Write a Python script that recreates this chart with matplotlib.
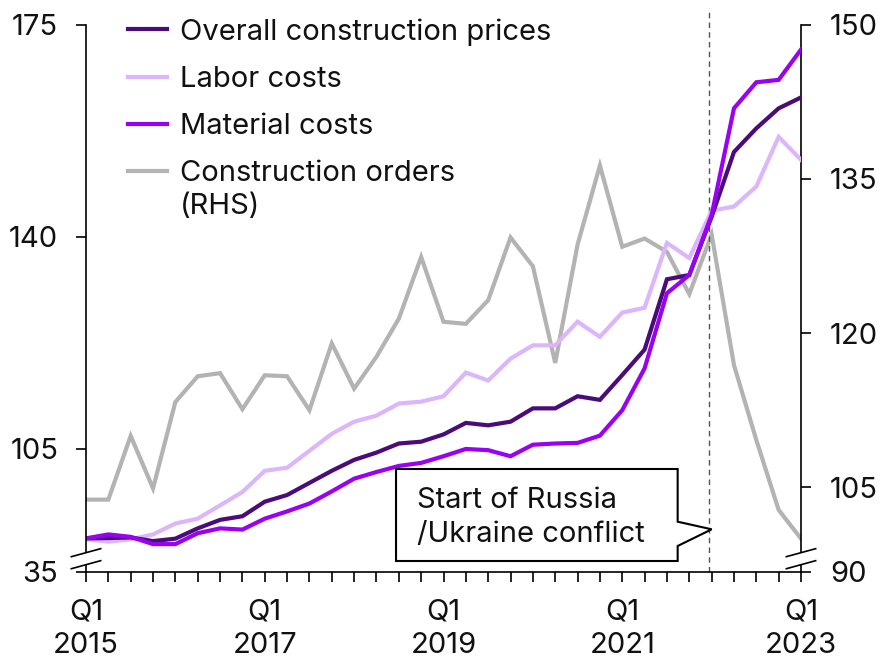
import matplotlib
matplotlib.use("Agg")
import matplotlib.pyplot as plt
from matplotlib.lines import Line2D
from matplotlib.patches import Polygon

plt.rcParams['font.family'] = ['Inter', 'DejaVu Sans']

# ---------------- data ----------------
quarters = list(range(33))  # Q1 2015 ... Q1 2023
overall = [90.25, 90.3, 90.4, 89.8, 90.2, 91.9, 93.3, 93.9, 96.3, 97.4,
           99.4, 101.4, 103.2, 104.4, 105.9, 106.2, 107.4, 109.3, 108.9, 109.5,
           111.7, 111.7, 113.7, 113.1, 117.2, 121.4, 133.0, 133.7, 143.3, 154.0,
           157.9, 161.2, 163.0]
labor = [90.1, 89.7, 90.1, 90.9, 92.7, 93.5, 95.7, 97.9, 101.4, 101.9,
         104.7, 107.5, 109.5, 110.5, 112.5, 112.8, 113.7, 117.6, 116.3, 119.9,
         122.1, 122.1, 126.0, 123.5, 127.5, 128.3, 139.0, 136.5, 144.3, 145.0,
         148.3, 156.5, 152.7]
material = [90.25, 90.9, 90.5, 89.3, 89.3, 91.1, 91.9, 91.7, 93.5, 94.7,
            96.0, 98.0, 100.1, 101.2, 102.2, 102.7, 103.8, 105.0, 104.8, 103.8,
            105.7, 105.9, 106.0, 107.2, 111.4, 118.3, 130.7, 133.7, 143.6, 161.2,
            165.5, 165.9, 170.9]
orders = [103.8, 103.8, 110.0, 104.9, 113.3, 115.8, 116.1, 112.6, 115.9, 115.8,
          112.5, 119.0, 114.6, 117.7, 121.4, 127.4, 121.1, 120.9, 123.2, 129.3,
          126.5, 117.1, 128.6, 136.3, 128.4, 129.2, 127.9, 123.8, 129.6, 116.9,
          109.6, 102.8, 100.0]

series_names = ["Overall construction prices", "Labor costs", "Material costs",
                "Construction orders"]
rhs_note = "(RHS)"
colors = ["#4b0c7a", "#dcb6fc", "#9a00f2", "#b3b3b3"]

x_major = [0, 8, 16, 24, 32]
x_major_labels = ["Q1\n2015", "Q1\n2017", "Q1\n2019", "Q1\n2021", "Q1\n2023"]

left_ticks = [84.7, 105, 140, 175]
left_tick_labels = ["35", "105", "140", "175"]
right_ticks = [96.76, 105, 120, 135, 150]
right_tick_labels = ["90", "105", "120", "135", "150"]

event_x = 27.87
event_text = ["Start of Russia", "/Ukraine conflict"]

# ---------------- figure ----------------
FS = 21
TXT = "#111111"
fig = plt.figure(figsize=(8.84, 6.58), dpi=100)
ax = fig.add_axes([86 / 884, 1 - 572 / 658, 715 / 884, 547.3 / 658])
ax2 = ax.twinx()

ax.set_zorder(ax2.get_zorder() + 1)
ax.patch.set_visible(False)

lw = 3.0
ax2.plot(quarters, orders, color=colors[3], lw=lw, solid_joinstyle='miter')
ax.plot(quarters, labor, color=colors[1], lw=lw, solid_joinstyle='miter')
ax.plot(quarters, overall, color=colors[0], lw=lw, solid_joinstyle='miter')
ax.plot(quarters, material, color=colors[2], lw=lw, solid_joinstyle='miter')

ax.set_xlim(0, 32)
ax.set_ylim(left_ticks[0], left_ticks[-1])
ax2.set_ylim(right_ticks[0], right_ticks[-1])

# x ticks
ax.set_xticks(quarters)
lbls = []
for q in quarters:
    lbls.append(x_major_labels[x_major.index(q)] if q in x_major else "")
ax.set_xticklabels(lbls, fontsize=FS, color=TXT, linespacing=1.3)
ax.tick_params(axis='x', direction='out', length=7, width=1.2, pad=12)

ax.set_yticks(left_ticks)
ax.set_yticklabels(left_tick_labels, fontsize=FS, color=TXT)
ax.tick_params(axis='y', direction='out', length=7, width=1.2, pad=13)

ax2.set_yticks(right_ticks)
ax2.set_yticklabels(right_tick_labels, fontsize=FS, color=TXT)
ax2.tick_params(axis='y', direction='out', length=7, width=1.2, pad=14)

for a in (ax, ax2):
    for s in a.spines.values():
        s.set_linewidth(1.2)
        s.set_color("black")
    a.spines['top'].set_visible(False)
ax.spines['right'].set_visible(False)
ax2.spines['left'].set_visible(False)
ax2.spines['bottom'].set_visible(False)

# event line
ax.plot([event_x, event_x], [0, 1.0305], transform=ax.get_xaxis_transform(),
        color="#555555", lw=1.0, ls=(0, (4, 3)), clip_on=False, zorder=1)

# callout
pts = [(0.4336, 0.1882), (0.8275, 0.1882), (0.8275, 0.0919), (0.8751, 0.078),
       (0.8275, 0.0475), (0.8275, 0.0201), (0.4336, 0.0201)]
ax.add_patch(Polygon(pts, closed=True, transform=ax.transAxes, facecolor='white',
                     edgecolor='black', lw=1.5, zorder=5, joinstyle='miter'))
ax.text(0.4624, 0.1169, event_text[0], transform=ax.transAxes, fontsize=FS,
        color=TXT, va='baseline', ha='left', zorder=6)
ax.text(0.4624, 0.0554, event_text[1], transform=ax.transAxes, fontsize=FS,
        color=TXT, va='baseline', ha='left', zorder=6)

# axis breaks
for xc in (0.0, 1.0):
    ax.plot([xc, xc], [0.0135, 0.0354], transform=ax.transAxes, color='white',
            lw=3, clip_on=False, zorder=7, solid_capstyle='butt')
    ax.plot([xc - 0.0205, xc + 0.0205], [0.0280, 0.0426], transform=ax.transAxes,
            color='black', lw=1.2, clip_on=False, zorder=8)
    ax.plot([xc - 0.0205, xc + 0.0205], [0.0060, 0.0207], transform=ax.transAxes,
            color='black', lw=1.2, clip_on=False, zorder=8)

# legend
handles = [Line2D([], [], color=c, lw=lw) for c in colors]
leg = ax.legend(handles, series_names, loc='upper left', bbox_to_anchor=(0.0583, 1.012),
                frameon=False, fontsize=FS, handlelength=1.34, handletextpad=0.45,
                labelspacing=0.69, borderpad=0, borderaxespad=0)
for t in leg.get_texts():
    t.set_color(TXT)
ax.text(0.1315, 0.6670, rhs_note, transform=ax.transAxes, fontsize=FS, color=TXT,
        ha='left', va='center')

fig.savefig("out.png", dpi=100)
